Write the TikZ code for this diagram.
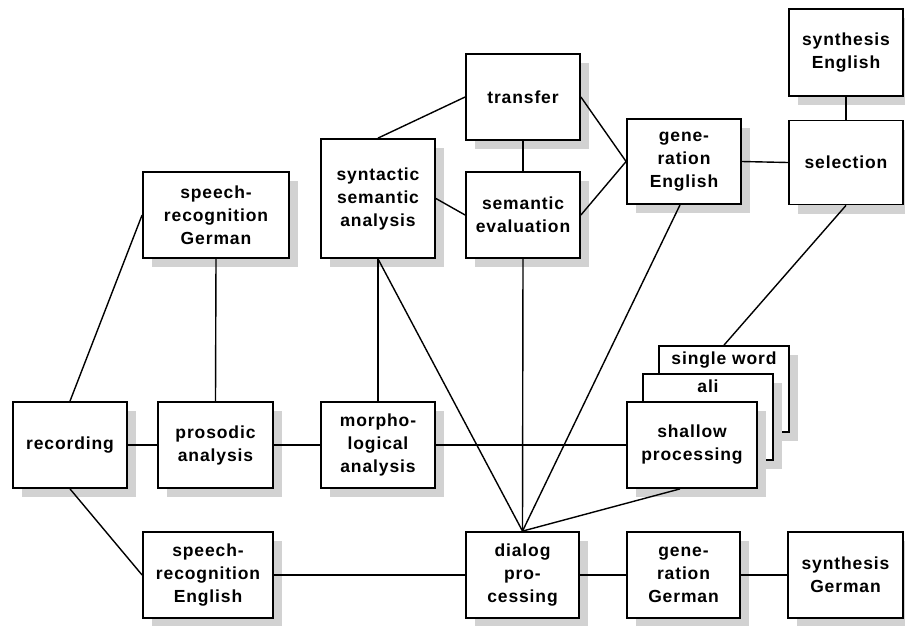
\documentclass[tikz,border=0pt]{standalone}
\usepackage{fontspec}
\setmainfont{Liberation Sans}[LetterSpace=5]
\usetikzlibrary{shadows}
\begin{document}
\begin{tikzpicture}[x=1pt,y=-1pt,
  box/.style={draw, line width=1.8pt, fill=white, align=center, inner sep=0pt,
    minimum width=114pt, minimum height=86pt,
    font=\fontsize{17.5}{23}\selectfont\bfseries,
    drop shadow={shadow xshift=9pt, shadow yshift=-9pt, fill=gray!35, opacity=1, draw=none}},
  lbl/.style={font=\fontsize{17.5}{23}\selectfont\bfseries, inner sep=0pt},
  conn/.style={line width=1.4pt}]
\useasboundingbox (0,0) rectangle (905,625);
% boxes
\node[box, minimum width=146pt] (sG) at (216,215) {speech-\\recognition\\German};
\node[box, minimum height=119pt] (syn) at (378,198.5) {syntactic\\semantic\\analysis};
\node[box] (tr) at (523,97) {transfer};
\node[box] (se) at (523,215) {semantic\\evaluation};
\node[box, minimum height=85pt] (gE) at (684,161.5) {gene-\\ration\\English};
\node[box, minimum height=84pt] (sel) at (846,162.5) {selection};
\node[box, minimum height=87pt] (sy) at (846,52.5) {synthesis\\English};
\node[box] (rec) at (70,445) {recording};
\node[box, minimum width=115pt] (pros) at (215.5,445) {prosodic\\analysis};
\node[box] (morph) at (378,445) {morpho-\\logical\\analysis};
\node[box, minimum width=130pt] (sE) at (208,575) {speech-\\recognition\\English};
\node[box, minimum width=113pt] (dia) at (522.5,575) {dialog\\pro-\\cessing};
\node[box, minimum width=113pt] (gG) at (683.5,575) {gene-\\ration\\German};
\node[box, minimum width=115pt] (sG2) at (845.5,575) {synthesis\\German};
% stacked shallow processing
\node[box, minimum width=130pt] (sw) at (724,389) {};
\node[lbl, anchor=north] (swl) at ([yshift=-7pt]sw.north) {single word};
\node[box, minimum width=130pt] (ali) at (708,417) {};
\node[lbl, anchor=north] (alil) at ([yshift=-7pt]ali.north) {ali};
\node[box, minimum width=130pt] (sh) at (692,445) {shallow\\processing};
% connectors
\draw[conn] (rec.north) -- (sG.west);
\draw[conn] (sG.south) -- (pros.north);
\draw[conn] (rec.east) -- (pros.west);
\draw[conn] (pros.east) -- (morph.west);
\draw[conn] (morph.east) -- (sh.west);
\draw[conn] (rec.south) -- (sE.west);
\draw[conn] (sE.east) -- (dia.west);
\draw[conn] (dia.east) -- (gG.west);
\draw[conn] (gG.east) -- (sG2.west);
\draw[conn] (syn.south) -- (morph.north);
\draw[conn] (syn.south) -- (dia.north);
\draw[conn] (se.south) -- (dia.north);
\draw[conn] ([xshift=-4pt]gE.south) -- (dia.north);
\draw[conn] ([xshift=-12pt]sh.south) -- (dia.north);
\draw[conn] (sel.south) -- (sw.north);
\draw[conn] (syn.north) -- (tr.west);
\draw[conn] (syn.east) -- (se.west);
\draw[conn] (tr.south) -- (se.north);
\draw[conn] (tr.east) -- (gE.west);
\draw[conn] (se.east) -- (gE.west);
\draw[conn] (gE.east) -- (sel.west);
\draw[conn] (sy.south) -- (sel.north);
\end{tikzpicture}
\end{document}
